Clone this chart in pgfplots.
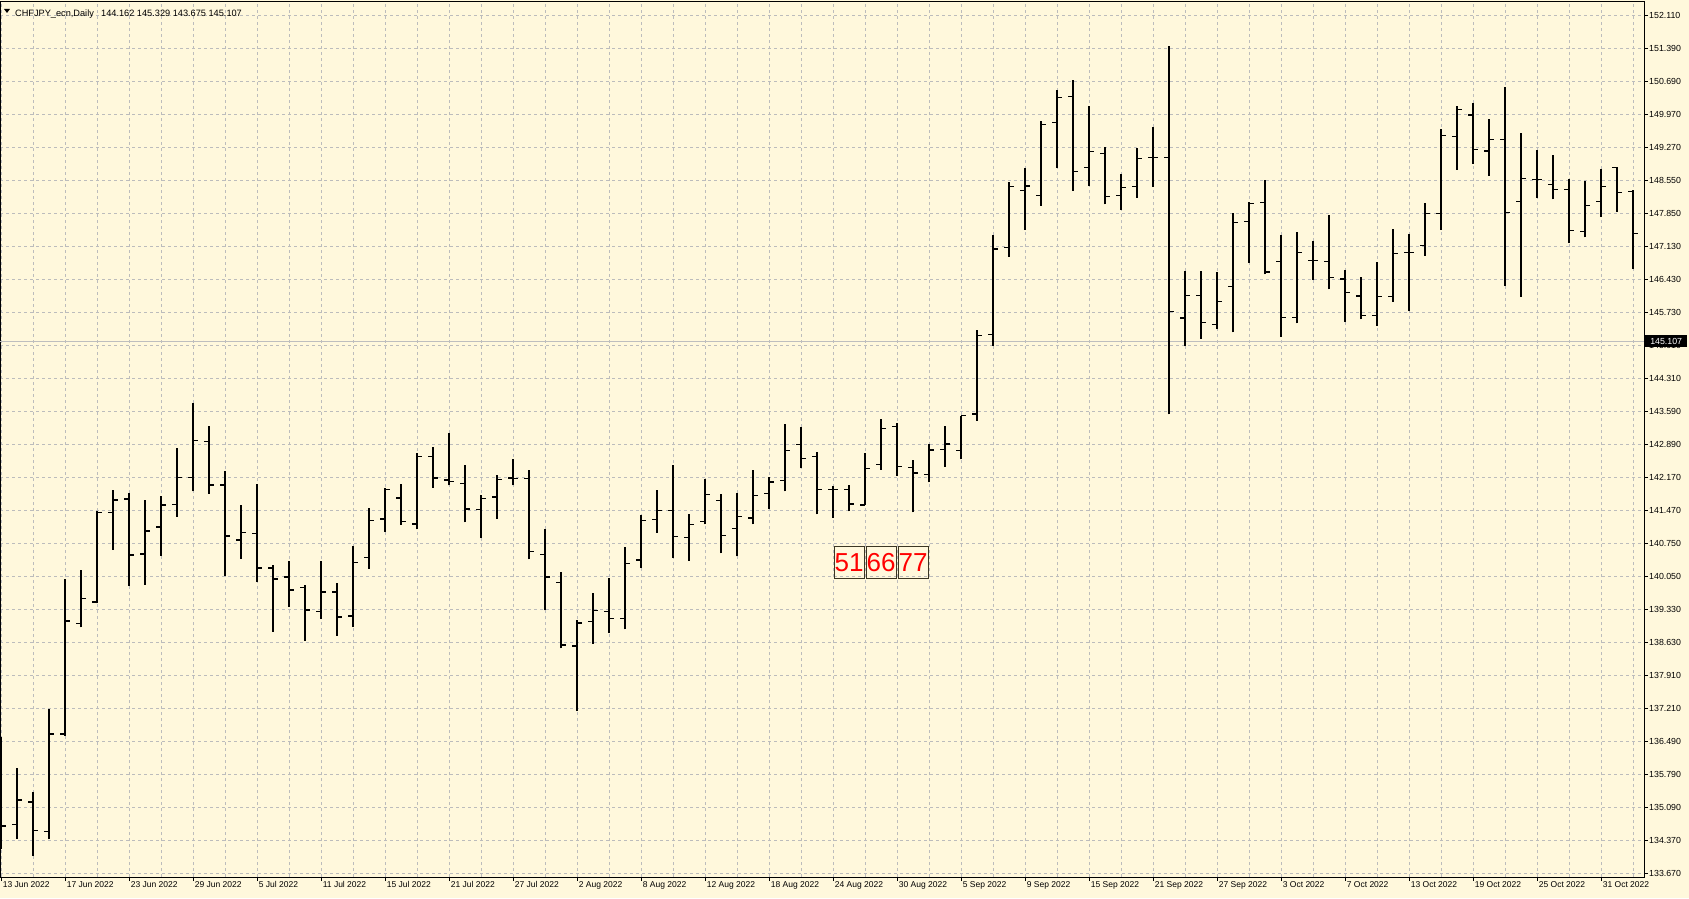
\documentclass[border=0pt]{standalone}
\usepackage{pgfplots}
\pgfplotsset{compat=1.18}
\usepackage{pgfplotstable}
\usepackage{fontspec}
\setmainfont{Liberation Sans}
\definecolor{bgc}{RGB}{255,248,220}
\definecolor{gridc}{RGB}{188,188,188}
\definecolor{curline}{RGB}{190,190,190}
\definecolor{boxc}{RGB}{60,55,35}

\pgfdeclareplotmark{otick}{\pgfpathmoveto{\pgfqpoint{-5pt}{0pt}}\pgfpathlineto{\pgfqpoint{0pt}{0pt}}\pgfusepathqstroke}
\pgfdeclareplotmark{ctick}{\pgfpathmoveto{\pgfqpoint{0pt}{0pt}}\pgfpathlineto{\pgfqpoint{5pt}{0pt}}\pgfusepathqstroke}

\pgfplotstableread{
x o h l c
0 135.000 136.607 134.185 134.687
1 134.716 135.926 134.407 135.246
2 135.203 135.410 134.042 134.587
3 134.565 137.201 134.400 136.664
4 136.664 139.995 136.628 139.093
5 139.035 140.189 138.957 139.573
6 139.501 141.464 139.472 141.421
7 141.421 141.908 140.626 141.693
8 141.715 141.837 139.852 140.511
9 140.533 141.693 139.874 141.027
10 141.113 141.779 140.490 141.579
11 141.593 142.800 141.335 142.173
12 142.173 143.770 141.879 142.968
13 142.947 143.283 141.829 142.015
14 142.015 142.316 140.067 140.919
15 140.833 141.585 140.432 140.991
16 140.969 142.030 139.938 140.231
17 140.231 140.296 138.863 139.995
18 140.038 140.382 139.400 139.759
19 139.809 139.859 138.670 139.329
20 139.293 140.382 139.142 139.716
21 139.716 139.909 138.777 139.178
22 139.200 140.704 138.971 140.346
23 140.454 141.521 140.217 141.249
24 141.284 141.944 141.012 141.915
25 141.736 142.037 141.163 141.227
26 141.177 142.696 141.062 142.624
27 142.624 142.825 141.958 142.165
28 142.123 143.133 142.008 142.087
29 142.051 142.445 141.213 141.499
30 141.485 141.793 140.876 141.721
31 141.757 142.223 141.291 142.130
32 142.165 142.567 142.008 142.151
33 142.158 142.337 140.418 140.582
34 140.525 141.070 139.318 140.038
35 139.916 140.138 138.505 138.577
36 138.555 139.107 137.165 139.049
37 139.078 139.694 138.605 139.315
38 139.293 140.009 138.842 139.142
39 139.142 140.683 138.913 140.325
40 140.403 141.371 140.239 141.249
41 141.270 141.908 140.991 141.464
42 141.464 142.445 140.454 140.905
43 140.891 141.385 140.389 141.163
44 141.227 142.144 141.170 141.807
45 141.686 141.822 140.547 140.926
46 141.084 141.836 140.482 141.335
47 141.306 142.330 141.170 141.786
48 141.829 142.187 141.492 142.080
49 142.108 143.326 141.879 142.753
50 142.889 143.262 142.373 142.581
51 142.624 142.717 141.385 141.915
52 141.915 141.994 141.313 141.915
53 141.922 142.022 141.449 141.607
54 141.585 142.696 141.578 142.373
55 142.459 143.427 142.338 143.233
56 143.269 143.355 142.216 142.409
57 142.388 142.545 141.428 142.273
58 142.244 142.904 142.073 142.767
59 142.782 143.283 142.402 142.896
60 142.753 143.505 142.567 143.505
61 143.541 145.347 143.400 145.225
62 145.247 147.389 145.011 147.088
63 147.117 148.521 146.923 148.428
64 148.342 148.822 147.504 148.442
65 148.234 149.832 148.019 149.760
66 149.803 150.505 148.836 150.340
67 150.362 150.713 148.342 148.750
68 148.836 150.161 148.449 149.180
69 149.137 149.287 148.048 148.213
70 148.234 148.700 147.933 148.406
71 148.428 149.259 148.191 149.030
72 149.051 149.710 148.428 149.051
73 149.050 151.458 143.534 145.741
74 145.605 146.615 144.996 146.085
75 146.085 146.615 145.161 145.505
76 145.462 146.593 145.376 145.956
77 146.278 147.854 145.297 147.654
78 147.675 148.091 146.794 148.062
79 148.083 148.571 146.543 146.593
80 146.816 147.389 145.204 145.612
81 145.612 147.446 145.490 147.009
82 146.837 147.260 146.429 146.837
83 146.816 147.818 146.221 146.471
84 146.443 146.637 145.526 146.149
85 146.078 146.479 145.576 145.655
86 145.655 146.809 145.440 146.063
87 146.063 147.518 145.956 146.988
88 147.009 147.410 145.763 147.009
89 147.160 148.077 146.945 147.847
90 147.847 149.667 147.496 149.524
91 149.502 150.168 148.786 150.082
92 149.961 150.226 148.922 149.223
93 149.194 149.882 148.657 149.438
94 149.438 150.577 146.293 147.869
95 148.105 149.588 146.063 148.600
96 148.578 149.216 148.191 148.578
97 148.471 149.108 148.155 148.370
98 148.363 148.592 147.224 147.482
99 147.461 148.556 147.339 148.019
100 148.105 148.807 147.783 148.428
101 148.843 148.843 147.890 148.299
102 148.320 148.356 146.665 147.417
}\ohlc

\begin{document}
\begin{tikzpicture}
\fill[bgc] (0,-21pt) rectangle (1689pt,877pt);
\begin{axis}[
  at={(0,0)}, anchor=south west,
  width=1644pt, height=875pt, scale only axis,
  xmin=-0.07, xmax=102.68,
  ymin=133.590, ymax=152.396,
  axis line style={black, line width=1pt},
  clip marker paths=true,
  xtick={0,4,...,100},
  xticklabels={13 Jun 2022,17 Jun 2022,23 Jun 2022,29 Jun 2022,5 Jul 2022,11 Jul 2022,15 Jul 2022,21 Jul 2022,27 Jul 2022,2 Aug 2022,8 Aug 2022,12 Aug 2022,18 Aug 2022,24 Aug 2022,30 Aug 2022,5 Sep 2022,9 Sep 2022,15 Sep 2022,21 Sep 2022,27 Sep 2022,3 Oct 2022,7 Oct 2022,13 Oct 2022,19 Oct 2022,25 Oct 2022,31 Oct 2022},
  minor xtick={2,6,...,102},
  ytick={133.6700,134.3792,135.0885,135.7977,136.5069,137.2162,137.9254,138.6346,139.3438,140.0531,140.7623,141.4715,142.1808,142.8900,143.5992,144.3085,145.0177,145.7269,146.4362,147.1454,147.8546,148.5638,149.2731,149.9823,150.6915,151.4008,152.1100},
  yticklabels={133.670,134.370,135.090,135.790,136.490,137.210,137.910,138.630,139.330,140.050,140.750,141.470,142.170,142.890,143.590,144.310,145.010,145.730,146.430,147.130,147.850,148.550,149.270,149.970,150.690,151.390,152.110},
  xtick pos=bottom, ytick pos=right, yticklabel pos=right,
  tick align=outside, major tick length=4pt, minor tick length=0pt,
  tick style={black, line width=0.8pt},
  grid=both,
  major grid style={gridc, line width=0.9pt, dash pattern=on 3pt off 3pt},
  minor grid style={gridc, line width=0.9pt, dash pattern=on 3pt off 3pt},
  xticklabel style={anchor=base west, inner sep=0pt, font=\fontsize{8.5}{10}\selectfont, xshift=1.5pt, yshift=-6pt},
  yticklabel style={anchor=west, inner sep=0pt, font=\fontsize{8.8}{10}\selectfont, xshift=1pt},
]
\addplot[curline, line width=1pt, forget plot] coordinates {(-0.07,145.107) (102.68,145.107)};
\addplot[draw=none, mark=none, forget plot,
  error bars/.cd, y dir=plus, y explicit, error mark=none,
  error bar style={draw=black, line width=1.8pt}]
  table[x=x, y=l, y error plus expr={\thisrow{h}-\thisrow{l}}] {\ohlc};
\addplot[only marks, mark=otick, mark options={black, line width=1.6pt}, forget plot] table[x=x, y=o] {\ohlc};
\addplot[only marks, mark=ctick, mark options={black, line width=1.6pt}, forget plot] table[x=x, y=c] {\ohlc};
\node[draw=boxc, line width=1pt, text=red, font=\fontsize{26}{26}\selectfont, minimum width=30pt, minimum height=32.5pt, inner sep=0pt, anchor=north] at (axis cs:53,140.711) {51};
\node[draw=boxc, line width=1pt, text=red, font=\fontsize{26}{26}\selectfont, minimum width=30pt, minimum height=32.5pt, inner sep=0pt, anchor=north] at (axis cs:55,140.711) {66};
\node[draw=boxc, line width=1pt, text=red, font=\fontsize{26}{26}\selectfont, minimum width=30pt, minimum height=32.5pt, inner sep=0pt, anchor=north] at (axis cs:57,140.711) {77};
\end{axis}
\node[fill=black, text=white, anchor=west, minimum width=42pt, minimum height=12.5pt, inner sep=0pt, font=\fontsize{8.8}{10}\selectfont] at (1645pt,535.9pt) {145.107};
\fill[black] (4pt,868pt) -- (10pt,868pt) -- (7pt,864pt) -- cycle;
\node[anchor=base west, inner sep=0pt, font=\fontsize{9.2}{10}\selectfont] at (15pt,860.5pt) {CHFJPY\_ecn,Daily};
\node[anchor=base west, inner sep=0pt, font=\fontsize{9.2}{10}\selectfont] at (101pt,860.5pt) {144.162 145.329 143.675 145.107};
\pgfresetboundingbox
\path[use as bounding box] (0,-21pt) rectangle (1689pt,877pt);
\end{tikzpicture}
\end{document}
